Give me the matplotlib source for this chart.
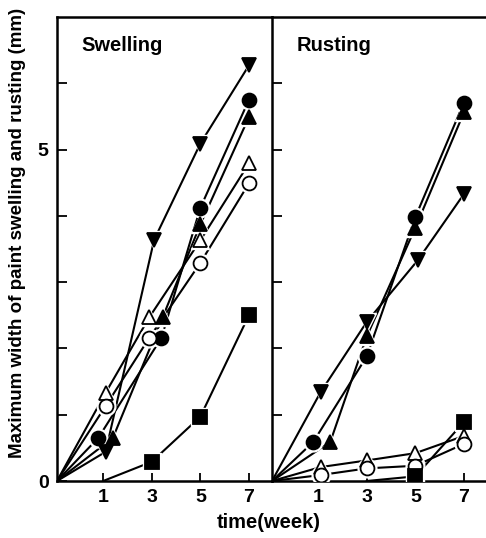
import matplotlib
matplotlib.use("Agg")
import matplotlib.pyplot as plt

plt.rcParams["font.family"] = ["Liberation Sans", "DejaVu Sans"]
plt.rcParams["font.weight"] = "bold"

# position of time zero on the axis (lines start at the corner)
T0 = -0.9

# Swelling panel
sw_down_x = [T0, 1.1, 3.1, 5, 7]
sw_down_y = [0, 0.44, 3.64, 5.09, 6.27]
sw_dot_x = [T0, 0.8, 3.4, 5, 7]
sw_dot_y = [0, 0.65, 2.16, 4.12, 5.75]
sw_up_x = [T0, 1.4, 3.45, 5, 7]
sw_up_y = [0, 0.65, 2.47, 3.87, 5.49]
sw_oup_x = [T0, 1.1, 2.9, 5, 7]
sw_oup_y = [0, 1.33, 2.47, 3.63, 4.79]
sw_ocir_x = [T0, 1.1, 2.9, 5, 7]
sw_ocir_y = [0, 1.13, 2.16, 3.29, 4.49]
sw_sq_x = [1, 3, 5, 7]
sw_sq_y = [0, 0.29, 0.97, 2.50]

# Rusting panel
ru_dot_x = [T0, 0.8, 3, 5, 7]
ru_dot_y = [0, 0.59, 1.88, 3.98, 5.71]
ru_up_x = [T0, 1.5, 3, 5, 7]
ru_up_y = [0, 0.59, 2.18, 3.82, 5.56]
ru_down_x = [T0, 1.1, 3, 5.1, 7]
ru_down_y = [0, 1.34, 2.40, 3.33, 4.33]
ru_oup_x = [T0, 1.1, 3, 5, 7]
ru_oup_y = [0, 0.21, 0.31, 0.42, 0.68]
ru_ocir_x = [T0, 1.1, 3, 5, 7]
ru_ocir_y = [0, 0.09, 0.19, 0.23, 0.56]
ru_sq_x = [3, 5, 7]
ru_sq_y = [0, 0.07, 0.89]

week_ticks = [1, 3, 5, 7]


def draw_series(ax, xs, ys, marker, filled):
    ax.plot(xs, ys, color="black", lw=1.5, zorder=2)
    mx = [x for x, y in zip(xs, ys) if y > 0]
    my = [y for y in ys if y > 0]
    # white halo so lines stop short of the symbols
    ax.plot(mx, my, ls="none", marker=marker, ms=13.5, mfc="white",
            mec="white", zorder=3)
    ax.plot(mx, my, ls="none", marker=marker, ms=10,
            mfc="black" if filled else "white", mec="black", mew=1.3,
            zorder=4)


fig = plt.figure(figsize=(4.86, 5.38), dpi=100)
ax1 = fig.add_axes([57 / 486, 57 / 538, 215 / 486, 464 / 538])
ax2 = fig.add_axes([272 / 486, 57 / 538, 215 / 486, 464 / 538])

draw_series(ax1, sw_down_x, sw_down_y, "v", True)
draw_series(ax1, sw_dot_x, sw_dot_y, "o", True)
draw_series(ax1, sw_up_x, sw_up_y, "^", True)
draw_series(ax1, sw_oup_x, sw_oup_y, "^", False)
draw_series(ax1, sw_ocir_x, sw_ocir_y, "o", False)
draw_series(ax1, sw_sq_x, sw_sq_y, "s", True)

draw_series(ax2, ru_dot_x, ru_dot_y, "o", True)
draw_series(ax2, ru_up_x, ru_up_y, "^", True)
draw_series(ax2, ru_down_x, ru_down_y, "v", True)
draw_series(ax2, ru_oup_x, ru_oup_y, "^", False)
draw_series(ax2, ru_ocir_x, ru_ocir_y, "o", False)
draw_series(ax2, ru_sq_x, ru_sq_y, "s", True)

for ax, title in [(ax1, "Swelling"), (ax2, "Rusting")]:
    ax.set_xlim(T0, 7.95)
    ax.set_ylim(0, 7)
    ax.set_xticks(week_ticks)
    ax.set_yticks([1, 2, 3, 4, 5, 6])
    ax.tick_params(direction="in", length=6, width=1.3, labelsize=14, pad=6)
    ax.tick_params(axis="y", length=7)
    for side in ["left", "bottom", "top"]:
        ax.spines[side].set_linewidth(1.8)
    ax.spines["right"].set_visible(False)
    ax.text(0.115, 0.96, title, transform=ax.transAxes, fontsize=14.5,
            fontweight="bold", ha="left", va="top")

ax1.set_yticks([0, 1, 2, 3, 4, 5, 6])
ax1.set_yticklabels(["0", "", "", "", "", "5", ""])
ax2.set_yticklabels([])

fig.text(18 / 486, 1 - 233 / 538, "Maximum width of paint swelling and rusting (mm)",
         rotation=90, ha="center", va="center", fontsize=13.5, fontweight="bold")
fig.text(269 / 486, 15 / 538, "time(week)", ha="center", va="center",
         fontsize=14.5, fontweight="bold")

fig.savefig("out.png", dpi=100)
